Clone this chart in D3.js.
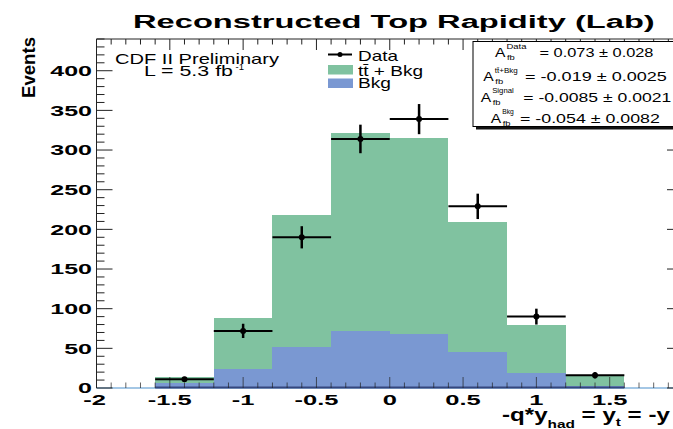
<!DOCTYPE html>
<html>
<head>
<meta charset="utf-8">
<script src="https://cdn.jsdelivr.net/npm/d3@7"></script>
<style>
  html, body { margin: 0; padding: 0; background: #fff; }
  svg { display: block; }
</style>
</head>
<body>
<svg id="chart" width="673" height="429"></svg>
<script>
// Histogram bins in reconstructed top rapidity
const binEdges = [-1.6, -1.2, -0.8, -0.4, 0.0, 0.4, 0.8, 1.2, 1.6];
// Stacked expectation: ttbar + background, and background alone
const ttbarPlusBkg = [14, 88, 218, 321, 315, 209, 80, 16];
const bkg = [6, 24, 52, 72, 68, 46, 19, 3];
// Observed events and their uncertainties
const dataCounts = [11, 72, 190, 314, 339, 229, 90, 16];
const dataErrors = [3, 9, 14, 18, 19, 16, 10, 4];
// Axis ticks (labelled ones; the x axis ends at 2)
const yTickValues = [0, 50, 100, 150, 200, 250, 300, 350, 400];
const xTickValues = [-2, -1.5, -1, -0.5, 0, 0.5, 1, 1.5];
const xTickLabels = ["-2", "-1.5", "-1", "-0.5", "0", "0.5", "1", "1.5"];
// Forward-backward asymmetry summary
const afbLabels = ["Data", "t\u0074\u0304+Bkg", "Signal", "Bkg"];
const afbValues = ["= 0.073 \u00b1 0.028", "= -0.019 \u00b1 0.0025", "= -0.0085 \u00b1 0.0021", "= -0.054 \u00b1 0.0082"];

const FONT = "'Liberation Sans', Arial, Helvetica, sans-serif";
const GREEN = "#80c2a0";
const BLUE = "#7a98d2";
const AXIS = "#222";

const svg = d3.select("#chart");

const X0 = 96.5, X1 = 683, Y0 = 388, Y1 = 39;
const x = d3.scaleLinear().domain([-2, 2]).range([X0, X1]);
const y = d3.scaleLinear().domain([0, 440]).range([Y0, Y1]);

// Text helper: draws a string and stretches it horizontally to a width or factor
function txt(parent, o) {
  const g = parent.append("g");
  const t = g.append("text")
    .attr("font-family", FONT)
    .attr("font-size", o.size)
    .attr("font-weight", o.bold ? "bold" : "normal")
    .attr("text-anchor", o.anchor || "start")
    .attr("fill", o.fill || "#000")
    .text(o.text);
  let s = o.sx || 1;
  if (o.build) o.build(t);
  if (o.width) {
    const w = t.node().getComputedTextLength();
    if (w > 0) s = o.width / w;
  }
  g.attr("transform", `translate(${o.x},${o.y})` + (o.rotate ? ` rotate(${o.rotate})` : "") + ` scale(${s},1)`);
  return t;
}

const bins = binEdges.slice(0, -1).map((lo, i) => ({
  lo, hi: binEdges[i + 1], total: ttbarPlusBkg[i], bkg: bkg[i],
  data: dataCounts[i], err: dataErrors[i]
}));

// Stacked histogram: ttbar + Bkg underneath, Bkg on top of it
svg.append("g").selectAll("rect").data(bins).join("rect")
  .attr("x", d => x(d.lo)).attr("width", d => x(d.hi) - x(d.lo))
  .attr("y", d => y(d.total)).attr("height", d => y(0) - y(d.total))
  .attr("fill", GREEN).attr("shape-rendering", "crispEdges");
svg.append("g").selectAll("rect").data(bins).join("rect")
  .attr("x", d => x(d.lo)).attr("width", d => x(d.hi) - x(d.lo))
  .attr("y", d => y(d.bkg)).attr("height", d => y(0) - y(d.bkg))
  .attr("fill", BLUE).attr("shape-rendering", "crispEdges");

// Histogram outline along zero
svg.append("line").attr("x1", X0).attr("x2", X1).attr("y1", Y0).attr("y2", Y0)
  .attr("stroke", "#86b4dc").attr("stroke-width", 1.5);
svg.append("line").attr("x1", x(binEdges[0])).attr("x2", x(binEdges[binEdges.length - 1]))
  .attr("y1", Y0 - 0.5).attr("y2", Y0 - 0.5)
  .attr("stroke", "#34467e").attr("stroke-width", 2);

// Frame and ticks
const frame = svg.append("g").attr("stroke", AXIS).attr("stroke-width", 1).attr("fill", "none");
frame.append("line").attr("x1", X0).attr("x2", X0).attr("y1", Y1).attr("y2", Y0);
frame.append("line").attr("x1", X0).attr("x2", X1).attr("y1", Y1).attr("y2", Y1);
frame.append("line").attr("x1", X1).attr("x2", X1).attr("y1", Y1).attr("y2", Y0);

const yMinor = d3.range(0, 441, 10);
const xMinor = d3.range(-20, 21).map(v => v / 10);
yMinor.forEach(v => {
  const major = v % 50 === 0;
  const L = major ? 16 : 8;
  frame.append("line").attr("x1", X0).attr("x2", X0 + L).attr("y1", y(v)).attr("y2", y(v));
  frame.append("line").attr("x1", X1).attr("x2", X1 - L).attr("y1", y(v)).attr("y2", y(v));
});
xMinor.forEach(v => {
  const major = Math.abs(v * 2 - Math.round(v * 2)) < 1e-6;
  const L = major ? 11 : 5.5;
  frame.append("line").attr("x1", x(v)).attr("x2", x(v)).attr("y1", Y1).attr("y2", Y1 + L);
  frame.append("line").attr("x1", x(v)).attr("x2", x(v)).attr("y1", Y0).attr("y2", Y0 - L)
    .attr("stroke-opacity", 0.7);
});

// Tick labels
yTickValues.forEach(v => {
  txt(svg, { x: 92, y: y(v) + 5.4, text: String(v), size: 15, bold: true, anchor: "end", sx: 1.67 });
});
xTickValues.forEach((v, i) => {
  txt(svg, { x: x(v) - (i === 0 ? 2 : 0), y: 404.5, text: xTickLabels[i], size: 15, bold: true, anchor: "middle", sx: 1.7 });
});

// Axis titles
txt(svg, { x: 35, y: 37, text: "Events", size: 18.5, bold: true, anchor: "end", rotate: -90, width: 61 });
txt(svg, { x: 502, y: 420.5, text: "", size: 18, bold: true, width: 168, build: t => {
  t.append("tspan").text("-q*y");
  t.append("tspan").attr("font-size", 11.5).attr("dy", 7.5).text("had");
  t.append("tspan").attr("dy", -7.5).text(" = y");
  t.append("tspan").attr("font-size", 11.5).attr("dy", 5.5).text("t");
  t.append("tspan").attr("dy", -5.5).text(" = -y");
} });

// Title
txt(svg, { x: 133, y: 28.3, text: "Reconstructed Top Rapidity (Lab)", size: 19, bold: true, width: 522 });

// Data points with error bars
const pts = svg.append("g").attr("stroke", "#000");
bins.forEach(d => {
  const cx = x((d.lo + d.hi) / 2);
  pts.append("line").attr("x1", x(d.lo)).attr("x2", x(d.hi))
    .attr("y1", y(d.data)).attr("y2", y(d.data)).attr("stroke-width", 2);
  pts.append("line").attr("x1", cx).attr("x2", cx)
    .attr("y1", y(d.data - d.err)).attr("y2", y(d.data + d.err)).attr("stroke-width", 2.5);
  pts.append("circle").attr("cx", cx).attr("cy", y(d.data)).attr("r", 3)
    .attr("fill", "#000").attr("stroke", "none");
});

// Experiment label
txt(svg, { x: 115, y: 64, text: "CDF II Preliminary", size: 15, width: 164 });
txt(svg, { x: 144, y: 76, text: "L = 5.3 fb", size: 15, width: 89 });
txt(svg, { x: 235.5, y: 69.5, text: "-1", size: 9.5, width: 8.5 });

// Legend
const leg = svg.append("g");
leg.append("line").attr("x1", 328).attr("x2", 352).attr("y1", 54.5).attr("y2", 54.5)
  .attr("stroke", "#000").attr("stroke-width", 2);
leg.append("circle").attr("cx", 340).attr("cy", 54.5).attr("r", 2.5).attr("fill", "#000");
leg.append("rect").attr("x", 328).attr("y", 65).attr("width", 25).attr("height", 9.5).attr("fill", GREEN);
leg.append("rect").attr("x", 328).attr("y", 78.5).attr("width", 25).attr("height", 9.5).attr("fill", BLUE);
txt(leg, { x: 358, y: 60.5, text: "Data", size: 14, width: 40 });
txt(leg, { x: 358, y: 75.7, text: "t\u0074\u0304 + Bkg", size: 14, width: 65 });
txt(leg, { x: 358, y: 88.3, text: "Bkg", size: 14, width: 33 });

// Asymmetry box with drop shadow
const box = svg.append("g");
box.append("rect").attr("x", 476).attr("y", 44.5).attr("width", 215).attr("height", 85)
  .attr("fill", "#111");
box.append("rect").attr("x", 473).attr("y", 41.5).attr("width", 215).attr("height", 85)
  .attr("fill", "#fff").attr("stroke", "#000").attr("stroke-width", 1);

const afbLayout = [
  { ax: 495, base: 57.3, supW: 20, eqX: 539.5, eqW: 114 },
  { ax: 483.3, base: 81, supW: 23, eqX: 525, eqW: 142 },
  { ax: 480.7, base: 101.7, supW: 21.6, eqX: 523.3, eqW: 148 },
  { ax: 490.7, base: 122.5, supW: 11.6, eqX: 520, eqW: 140 }
];
afbLabels.forEach((lab, i) => {
  const L = afbLayout[i];
  txt(box, { x: L.ax, y: L.base, text: "A", size: 12.5, sx: 1.25 });
  txt(box, { x: L.ax + 11.5, y: L.base - 8.5, text: lab, size: 7.5, width: L.supW });
  txt(box, { x: L.ax + 12, y: L.base + 3, text: "fb", size: 7.5, sx: 1.25 });
  txt(box, { x: L.eqX, y: L.base, text: afbValues[i], size: 12.5, width: L.eqW });
});
</script>
</body>
</html>
